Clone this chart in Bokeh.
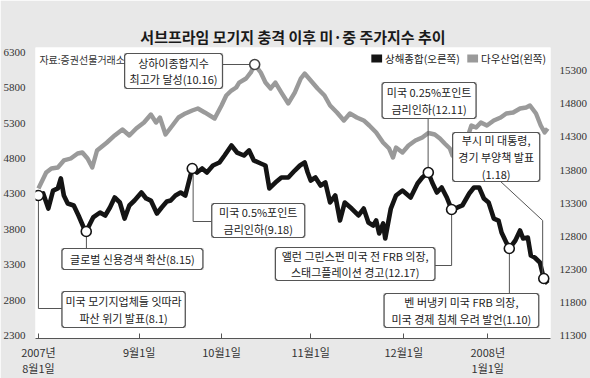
from bokeh.plotting import figure
from bokeh.models import Range1d, LinearAxis, FixedTicker, BoxAnnotation
from bokeh.core.properties import value
from bokeh.embed import file_html
from bokeh.resources import INLINE

# ---------------- data ----------------
title_text = "서브프라임 모기지 충격 이후 미·중 주가지수 추이"
source_note = "자료:증권선물거래소"
legend_black = "상해종합(오른쪽)"
legend_gray = "다우산업(왼쪽)"

# x = trading-session index from 2007-08-01
tick_pos = [0, 23.4, 42.5, 63.2, 84.8, 104.3]
tick_labels = ["2007년\n8월1일", "9월1일", "10월1일", "11월1일", "12월1일", "2008년\n1월1일"]
left_ticks = [2300, 2800, 3300, 3800, 4300, 4800, 5300, 5800, 6300]
right_ticks = [11300, 11800, 12300, 12800, 13300, 13800, 14300, 14800, 15300]

gray_x = [0, 1.8, 3.0, 4.5, 5.9, 7.5, 9.1, 10.2, 11.4, 12.5,
          13.6, 15.9, 17.7, 19.5, 21.1, 22.7, 24.5, 26.1, 27.3, 28.2,
          29.5, 31.1, 32.5, 34.1, 35.7, 37.0, 38.6, 40.9, 42.5, 43.6,
          44.8, 45.9, 46.6, 48.2, 49.3, 50.2, 51.6, 52.7, 53.9, 55.0,
          56.4, 58.0, 59.5, 60.9, 61.8, 63.2, 64.8, 66.4, 67.7, 69.3,
          70.9, 72.3, 73.9, 75.5, 76.8, 78.4, 80.0, 81.4, 82.3, 83.0,
          84.5, 85.9, 87.5, 89.1, 90.5, 92.0, 93.2, 94.3, 95.5,
          96.1, 97.3, 98.4, 99.5, 100.5, 101.6, 102.7, 104.1, 105.7, 107.3,
          108.6, 110.2, 111.8, 113.2, 114.1, 115.5, 116.6, 117.5, 118.2]
gray_v = [4376, 4602, 4659, 4673, 4772, 4800, 4871, 4885, 4800, 4673,
          4913, 5026, 5125, 5210, 5125, 5224, 5308, 5421, 5308, 5379,
          5139, 5266, 5379, 5436, 5478, 5506, 5450, 5365, 5549, 5690,
          5760, 5803, 5873, 5930, 6015, 6128, 6015, 5873, 5789, 5873,
          5732, 5577, 5732, 5930, 6000, 5902, 5789, 5690, 5549, 5450,
          5337, 5436, 5379, 5337, 5266, 5167, 5026, 4941, 4814, 4955,
          4885, 4984, 5054, 5097, 5160, 5139, 5082, 5012, 4941,
          4842, 4772, 4913, 5082, 5266, 5238, 5308, 5266, 5337, 5379,
          5436, 5450, 5506, 5520, 5549, 5436, 5266, 5167, 5224]

black_x = [0, 1.1, 2.3, 3.4, 4.5, 5.2, 5.9, 6.8, 8.2, 9.3,
           10.5, 11.1, 12.0, 12.7, 14.3, 15.5, 16.6, 17.7, 18.9, 20.0,
           21.1, 22.3, 23.9, 25.0, 26.1, 27.5, 28.6, 29.8, 30.7, 31.8,
           33.0, 34.1, 35.7, 36.8, 38.0, 39.1, 40.5, 42.0, 43.2, 44.8,
           46.1, 47.7, 48.9, 50.0, 51.6, 52.7, 53.6, 55.0, 56.4, 58.0,
           59.5, 60.7, 61.8, 62.5, 63.2, 64.3, 65.5, 66.6, 67.7, 68.9,
           70.0, 71.1, 72.7, 74.3, 75.5, 76.6, 77.7, 78.4, 79.1, 80.0,
           80.5, 81.8, 83.0, 84.5, 86.4, 88.0, 89.1, 90.5, 91.4, 92.5,
           93.6, 94.8, 95.9, 97.3, 98.4, 100.0, 101.1, 102.3, 103.4, 104.5,
           105.7, 106.8, 107.5, 108.6, 109.3, 110.7, 111.8, 112.5, 113.6, 114.3,
           115.2, 116.4, 117.3, 118.2]
black_v = [13415, 13445, 13218, 13490, 13521, 13672, 13415, 13294, 13264, 13113,
           12931, 12871, 12992, 13083, 13158, 13113, 13234, 13385, 13309, 13067,
           13264, 13339, 13460, 13370, 13339, 13143, 13234, 13324, 13339, 13415,
           13460, 13415, 13823, 13762, 13823, 13762, 13868, 13913, 14019, 14170,
           14064, 14019, 14095, 13944, 13898, 13868, 13521, 13611, 13687, 13687,
           13792, 13868, 13913, 13762, 13641, 13687, 13566, 13611, 13309, 13415,
           13037, 13309, 13218, 13113, 13218, 13007, 12962, 13037, 12841, 12992,
           12765, 13218, 13415, 13490, 13385, 13596, 13687, 13762, 13611, 13460,
           13536, 13385, 13203, 13234, 13264, 13445, 13536, 13536, 13370, 13309,
           13067, 13037, 12856, 12705, 12614, 12735, 12886, 12765, 12780, 12508,
           12478, 12403, 12161, 12086]

# event markers: indices into the series
black_events = [0, 11, 32, 77, 82, 94, 102]
gray_events = [35]

notes = [
    "상하이종합지수\n최고가 달성(10.16)",
    "미국 모기지업체들 잇따라\n파산 위기 발표(8.1)",
    "글로벌 신용경색 확산(8.15)",
    "미국 0.5%포인트\n금리인하(9.18)",
    "앨런 그린스펀 미국 전 FRB 의장,\n스태그플레이션 경고(12.17)",
    "미국 0.25%포인트\n금리인하(12.11)",
    "벤 버냉키 미국 FRB 의장,\n미국 경제 침체 우려 발언(1.10)",
    "부시 미 대통령,\n경기 부양책 발표\n(1.18)",
]

# ---------------- layout helpers (pixel -> data, left axis) ----------------
W, H = 590, 378
FL, FR, FT, FB = 32, 558, 47, 338


def fx(px):
    return (px - 35) / 4.4


def fy(py):
    return 2300 + (335 - py) * 500 / 35.4


def fyr(py):
    return 11300 + (335 - py) * 500 / 33.1


KFONT = "Noto Sans CJK KR"
NFONT = "Liberation Sans Narrow"

p = figure(width=W, height=H, output_backend="svg", toolbar_location=None,
           x_range=Range1d(fx(FL), fx(FR)), y_range=Range1d(fy(FB), fy(FT)),
           min_border_left=FL, min_border_right=W - FR,
           min_border_top=FT, min_border_bottom=H - FB,
           title=title_text)
p.extra_y_ranges = {"right": Range1d(fyr(FB), fyr(FT))}
p.border_fill_color = "#e8e8e8"
p.background_fill_color = "white"
p.outline_line_color = None
p.grid.visible = False

p.title.align = "center"
p.title.text_font = KFONT
p.title.text_font_size = "15px"
p.title.text_font_style = "bold"
p.title.text_color = "#1a1a1a"
p.title.standoff = 2

# x axis
xa = p.xaxis[0]
xa.ticker = FixedTicker(ticks=tick_pos)
xa.major_label_overrides = {t: l for t, l in zip(tick_pos, tick_labels)}
xa.axis_line_color = "#555555"
xa.major_tick_line_color = "#555555"
xa.major_tick_in = 5
xa.major_tick_out = 0
xa.minor_tick_line_color = None
xa.major_label_text_font = KFONT
xa.major_label_text_font_size = "11px"
xa.major_label_text_color = "#333333"
xa.major_label_text_line_height = 1.0
xa.major_label_standoff = 5

# left axis
ya = p.yaxis[0]
ya.ticker = FixedTicker(ticks=left_ticks)
ya.axis_line_color = None
ya.major_tick_line_color = None
ya.minor_tick_line_color = None
ya.major_label_text_font = NFONT
ya.major_label_text_font_size = "11px"
ya.major_label_text_color = "#333333"
ya.major_label_standoff = 4

# right axis
ra = LinearAxis(y_range_name="right", ticker=FixedTicker(ticks=right_ticks))
ra.axis_line_color = None
ra.major_tick_line_color = None
ra.minor_tick_line_color = None
ra.major_label_text_font = NFONT
ra.major_label_text_font_size = "11px"
ra.major_label_text_color = "#333333"
ra.major_label_standoff = 3
p.add_layout(ra, "right")

GRAY = "#9a9a9a"
BLACK = "#141414"

p.line(gray_x, gray_v, line_color=GRAY, line_width=4.4, line_join="round")
p.line(black_x, black_v, line_color=BLACK, line_width=4.6, line_join="round",
       y_range_name="right")

# leader lines (pixel layout -> data)
paths = [
    [(35, 195), (35, 308), (59, 308)],
    [(84, 231), (84, 248)],
    [(193, 168), (193, 221), (212, 221)],
    [(256, 64), (223, 64)],
    [(433, 172), (433, 118)],
    [(457, 209), (457, 265), (440, 265)],
    [(516, 248), (516, 293)],
    [(550, 277), (550, 220), (507, 181)],
]
p.multi_line([[fx(a) for a, b in pth] for pth in paths],
             [[fy(b) for a, b in pth] for pth in paths],
             line_color="#555555", line_width=1)

# annotation boxes (left, right, top, bottom in px), drawn after the lines
boxes = [
    (123, 223, 53, 88),
    (59, 185, 291, 327),
    (59, 203, 248, 269),
    (212, 307, 203, 237),
    (277, 440, 247, 280),
    (386, 482, 82, 118),
    (388, 546, 293, 327),
    (458, 547, 132, 181),
]
p.quad(left=[fx(l) for l, r, t, b in boxes],
       right=[fx(r) for l, r, t, b in boxes],
       top=[fy(t) for l, r, t, b in boxes],
       bottom=[fy(b) for l, r, t, b in boxes],
       fill_color=["#ffffff"] * len(boxes), line_color=None)

c = 2
outline_xs, outline_ys = [], []
for l, r, t, b in boxes:
    pts = [(l + c, t), (r - c, t), (r, t + c), (r, b - c), (r - c, b),
           (l + c, b), (l, b - c), (l, t + c), (l + c, t)]
    outline_xs.append([fx(a) for a, _ in pts])
    outline_ys.append([fy(v) for _, v in pts])
p.multi_line(outline_xs, outline_ys, line_color="#555555", line_width=1.2)

for l, r, t, b in boxes:
    p.add_layout(BoxAnnotation(left=fx(l), right=fx(r), top=fy(t), bottom=fy(b),
                               fill_alpha=0, line_color="#555555",
                               line_width=1.2))

p.text([fx((l + r) / 2) for l, r, t, b in boxes],
       [fy((t + b) / 2) for l, r, t, b in boxes],
       text=notes, text_align="center", text_baseline="middle",
       text_font=value(KFONT), text_font_size="11px",
       text_color="#222222", text_line_height=1.05)

# event markers
p.scatter([black_x[i] for i in black_events], [black_v[i] for i in black_events],
          size=10, fill_color="white", line_color=BLACK, line_width=1.6,
          y_range_name="right")
p.scatter([gray_x[i] for i in gray_events], [gray_v[i] for i in gray_events],
          size=10, fill_color="white", line_color="#444444", line_width=1.6)

# source note
p.text([fx(36)], [fy(59)], text=[source_note], text_align="left",
       text_baseline="middle", text_font=value(KFONT), text_font_size="10px",
       text_color="#333333")

# legend
p.quad(left=[fx(375), fx(473)], right=[fx(386), fx(484)],
       top=[fy(54), fy(54)], bottom=[fy(62), fy(62)],
       fill_color=[BLACK, GRAY], line_color=None)
p.text([fx(389), fx(487)], [fy(58), fy(58)], text=[legend_black, legend_gray],
       text_align="left", text_baseline="middle", text_font=value(KFONT),
       text_font_size="10.5px", text_color="#222222")

open("out.html", "w").write(file_html(p, INLINE))
